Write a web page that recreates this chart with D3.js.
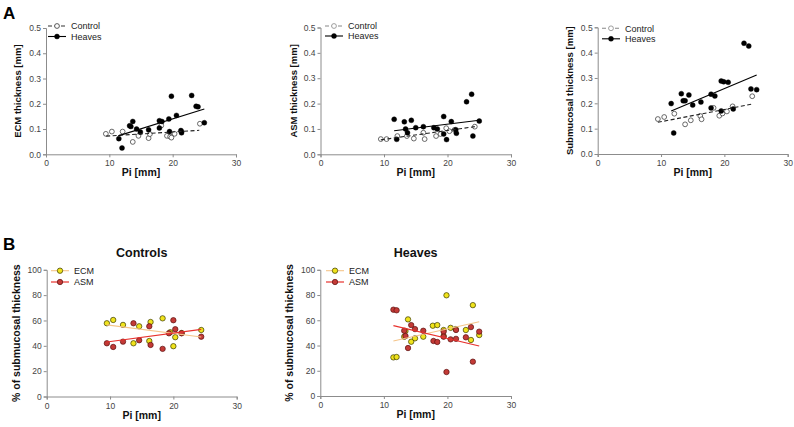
<!DOCTYPE html>
<html><head><meta charset="utf-8">
<script src="https://cdn.jsdelivr.net/npm/d3@7"></script>
<style>
body{margin:0;background:#fff;}
text{font-family:"Liberation Sans",Arial,sans-serif;}
</style></head>
<body>
<svg id="c" width="794" height="427"></svg>
<script>
// ---------- data ----------
const xTicks = [0, 10, 20, 30];
const yTicksMm = [0.0, 0.1, 0.2, 0.3, 0.4, 0.5];
const yTicksPct = [0, 20, 40, 60, 80, 100];

const ecmControl = [[9.45,0.081],[10.4,0.09],[12.1,0.09],[13.7,0.049],[14.6,0.073],[16.2,0.064],[16.4,0.08],[18.2,0.114],[19.1,0.073],[19.6,0.07],[19.8,0.066],[20.3,0.081],[21.4,0.09],[24.3,0.121]];
const ecmHeaves = [[11.5,0.062],[12.0,0.025],[13.2,0.113],[13.4,0.11],[13.7,0.13],[14.3,0.1],[14.9,0.088],[16.2,0.097],[17.9,0.133],[17.9,0.104],[18.3,0.13],[19.4,0.14],[19.5,0.09],[19.8,0.23],[20.6,0.154],[21.3,0.094],[21.4,0.085],[23.0,0.233],[23.7,0.19],[24.0,0.188],[25.0,0.125]];
const ecmControlFit = [[9.5,0.072],[24.2,0.095]];
const ecmHeavesFit = [[11.4,0.073],[25.0,0.179]];

const asmControl = [[9.5,0.06],[10.4,0.06],[12.1,0.072],[13.6,0.072],[14.7,0.062],[16.2,0.085],[16.4,0.06],[18.2,0.072],[18.9,0.08],[19.8,0.103],[20.3,0.091],[21.1,0.096],[24.3,0.109]];
const asmHeaves = [[11.6,0.138],[12.0,0.059],[13.2,0.128],[13.4,0.1],[13.7,0.085],[14.3,0.134],[15.0,0.105],[16.2,0.109],[17.85,0.105],[18.4,0.1],[19.4,0.149],[19.4,0.08],[19.85,0.058],[20.6,0.129],[21.3,0.097],[21.4,0.083],[23.0,0.207],[23.8,0.237],[24.0,0.072],[25.0,0.131]];
const asmControlFit = [[9.5,0.057],[24.3,0.109]];
const asmHeavesFit = [[11.6,0.093],[25.0,0.134]];

const subControl = [[9.5,0.138],[10.5,0.146],[12.1,0.159],[13.8,0.117],[14.7,0.133],[16.2,0.15],[16.4,0.137],[18.3,0.182],[19.2,0.151],[19.7,0.16],[20.4,0.168],[21.3,0.188],[24.4,0.228]];
const subHeaves = [[11.6,0.199],[12.0,0.083],[13.2,0.238],[13.5,0.21],[13.8,0.21],[14.4,0.233],[15.0,0.193],[16.3,0.205],[17.9,0.236],[17.9,0.182],[18.5,0.229],[19.5,0.288],[19.9,0.285],[19.5,0.17],[20.6,0.283],[21.4,0.178],[23.1,0.437],[23.85,0.426],[24.2,0.257],[25.1,0.254]];
const subControlFit = [[9.5,0.125],[24.4,0.197]];
const subHeavesFit = [[11.6,0.17],[25.1,0.312]];

const ctrlEcmPct = [[9.5,57.8],[10.5,60.4],[12.05,56.5],[13.7,42],[14.6,55.4],[16.2,43.8],[16.4,58.8],[18.3,61.7],[19.5,50.7],[20.3,46.8],[20.0,39.7],[21.3,50.1],[24.4,52.5]];
const ctrlAsmPct = [[9.5,42],[10.5,39.1],[12.05,43.3],[13.7,57.8],[14.6,44.4],[16.2,55.4],[16.4,40.7],[18.3,37.6],[19.3,49.9],[20.0,60.2],[20.3,53.1],[21.3,49.9],[24.4,47.2]];
const ctrlEcmFit = [[9.5,56.5],[24.4,47]];
const ctrlAsmFit = [[9.5,43],[24.4,53]];

const hvEcmPct = [[11.5,30.6],[12.0,30.9],[13.2,47],[13.4,51.5],[13.8,60.7],[14.3,43],[14.9,45.7],[16.2,47],[17.7,55.7],[18.4,56.2],[19.4,52.3],[19.4,47.5],[19.85,79.8],[20.5,54],[21.3,53],[22.9,52.3],[23.7,44.4],[24.0,72],[25.0,48.3]];
const hvAsmPct = [[11.5,68.4],[12.0,67.9],[13.2,51.7],[13.4,47.5],[13.8,38],[14.3,56.2],[14.9,53],[16.2,51.7],[17.8,43.6],[18.4,42.8],[19.4,51],[19.4,47],[19.85,19],[20.5,44.9],[21.35,52.3],[21.35,45.3],[22.9,46.5],[23.7,54.6],[24.0,27.2],[25.0,51]];
const hvEcmFit = [[11.5,43.6],[25.0,58.9]];
const hvAsmFit = [[11.5,55.7],[25.0,39.6]];

// ---------- drawing ----------
const svg = d3.select("#c");
const AXC = "#8c8c8c";

function panel(cfg){
  const x = d3.scaleLinear().domain([0,30]).range([cfg.x0, cfg.x1]);
  const y = d3.scaleLinear().domain(cfg.ydom).range([cfg.y0, cfg.y1]);
  const g = svg.append("g");
  const xa = g.append("g").attr("transform",`translate(0,${cfg.y0})`)
    .call(d3.axisBottom(x).tickValues(xTicks).tickSize(3).tickPadding(3).tickFormat(d3.format("d")));
  const ya = g.append("g").attr("transform",`translate(${cfg.x0},0)`)
    .call(d3.axisLeft(y).tickValues(cfg.yticks).tickSize(3).tickPadding(2).tickFormat(cfg.fmt));
  [xa,ya].forEach(a=>{
    a.selectAll("path,line").attr("stroke",AXC).attr("stroke-width",1);
    a.selectAll("text").attr("fill","#444").style("font-size","8.5px");
  });
  g.append("text").attr("x",(cfg.x0+cfg.x1)/2).attr("y",cfg.y0+22).attr("text-anchor","middle")
    .style("font-size","10.5px").style("font-weight","bold").attr("fill","#111").text("Pi [mm]");
  g.append("text").attr("transform",`translate(${cfg.ylx},${(cfg.y0+cfg.y1)/2}) rotate(-90)`)
    .attr("text-anchor","middle").style("font-size",cfg.ylfs).style("font-weight","bold").attr("fill","#111").text(cfg.ylabel);
  if(cfg.title) g.append("text").attr("x",(cfg.x0+cfg.x1)/2).attr("y",cfg.y1-13).attr("text-anchor","middle")
    .style("font-size","12.5px").style("font-weight","bold").attr("fill","#111").text(cfg.title);
  const line = d3.line().x(d=>x(d[0])).y(d=>y(d[1]));
  cfg.series.forEach(s=>{
    g.append("g").selectAll("circle").data(s.pts).join("circle")
      .attr("cx",d=>x(d[0])).attr("cy",d=>y(d[1])).attr("r",s.r)
      .attr("fill",s.fill).attr("stroke",s.stroke).attr("stroke-width",s.sw);
  });
  cfg.series.forEach(s=>{
    g.append("path").datum(s.fit).attr("d",line).attr("fill","none")
      .attr("stroke",s.lc).attr("stroke-width",s.lw).attr("stroke-dasharray",s.dash||null);
  });
  // legend
  cfg.series.forEach((s,i)=>{
    const ly = cfg.leg[1] + i*cfg.legdy;
    g.append("line").attr("x1",cfg.leg[0]-9).attr("x2",cfg.leg[0]+9).attr("y1",ly).attr("y2",ly)
      .attr("stroke",s.legc||s.lc).attr("stroke-width",s.lw).attr("stroke-dasharray",s.dash||null);
    g.append("circle").attr("cx",cfg.leg[0]).attr("cy",ly).attr("r",s.r)
      .attr("fill",s.fill).attr("stroke",s.legs||s.stroke).attr("stroke-width",s.sw);
    g.append("text").attr("x",cfg.leg[0]+14).attr("y",ly+3.2).style("font-size","9px").attr("fill","#222").text(s.name);
  });
}

const fmtMm = d3.format(".1f");
const fmtPct = d3.format("d");
function ctrl(pts,fit,legc){return {name:"Control",pts,fit,r:2.4,fill:"#fff",stroke:"#444",sw:0.8,lc:"#222",lw:1.1,dash:"4,2.5",legc:legc,legs:legc};}
function hv(pts,fit){return {name:"Heaves",pts,fit,r:2.5,fill:"#000",stroke:"#000",sw:0.4,lc:"#000",lw:1.1};}
function ecm(pts,fit){return {name:"ECM",pts,fit,r:2.7,fill:"#f0e31c",stroke:"#3a3a00",sw:0.7,lc:"#f5c58a",lw:1.1};}
function asm(pts,fit){return {name:"ASM",pts,fit,r:2.7,fill:"#c33a36",stroke:"#5a1010",sw:0.7,lc:"#e8322e",lw:1.2};}

panel({x0:46,x1:236,y0:154.3,y1:28,ydom:[0,0.5],yticks:yTicksMm,fmt:fmtMm,ylx:21,ylfs:"9.5px",
  ylabel:"ECM thickness [mm]",leg:[57,26],legdy:10.5,series:[ctrl(ecmControl,ecmControlFit,"#333"),hv(ecmHeaves,ecmHeavesFit)]});
panel({x0:320.5,x1:511,y0:154.3,y1:27.5,ydom:[0,0.5],yticks:yTicksMm,fmt:fmtMm,ylx:297,ylfs:"9.5px",
  ylabel:"ASM thickness [mm]",leg:[334,26],legdy:10,series:[ctrl(asmControl,asmControlFit,"#888"),hv(asmHeaves,asmHeavesFit)]});
panel({x0:597.7,x1:787.7,y0:154,y1:27.3,ydom:[0,0.5],yticks:yTicksMm,fmt:fmtMm,ylx:573,ylfs:"9.5px",
  ylabel:"Submucosal thickness [mm]",leg:[611,28.3],legdy:10.5,series:[ctrl(subControl,subControlFit,"#888"),hv(subHeaves,subHeavesFit)]});
panel({x0:46.7,x1:236.7,y0:396.5,y1:269.8,ydom:[0,100],yticks:yTicksPct,fmt:fmtPct,ylx:19.5,ylfs:"10.5px",
  ylabel:"% of submucosal thickness",title:"Controls",leg:[60,270.7],legdy:11.3,series:[ecm(ctrlEcmPct,ctrlEcmFit),asm(ctrlAsmPct,ctrlAsmFit)]});
panel({x0:320.3,x1:511,y0:396,y1:269.8,ydom:[0,100],yticks:yTicksPct,fmt:fmtPct,ylx:293,ylfs:"10.5px",
  ylabel:"% of submucosal thickness",title:"Heaves",leg:[335,270.7],legdy:11.3,series:[ecm(hvEcmPct,hvEcmFit),asm(hvAsmPct,hvAsmFit)]});

svg.append("text").attr("x",3).attr("y",19).style("font-size","17px").style("font-weight","bold").attr("fill","#000").text("A");
svg.append("text").attr("x",3).attr("y",250).style("font-size","17px").style("font-weight","bold").attr("fill","#000").text("B");
</script>
</body></html>
